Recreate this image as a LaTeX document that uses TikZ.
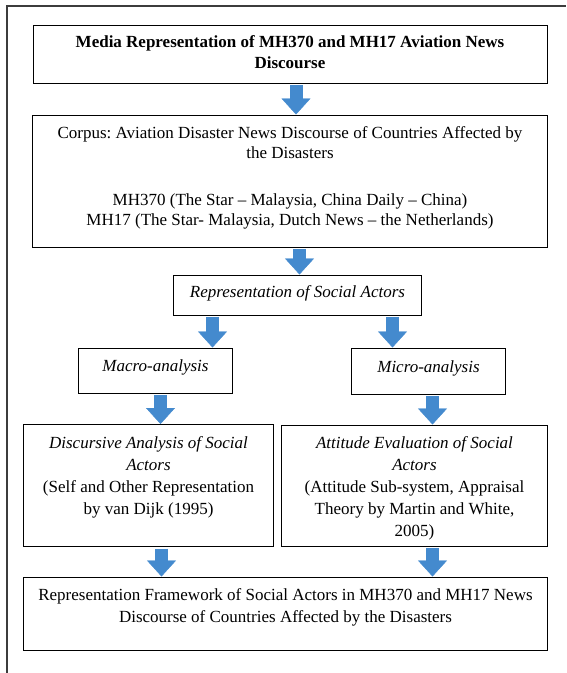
\documentclass[tikz,border=0pt]{standalone}
\usepackage{fontspec}
\setmainfont{Liberation Serif}
\usepackage{xcolor}
\usepackage{tikz}
\usetikzlibrary{arrows.meta, positioning, calc}
\definecolor{arrowblue}{RGB}{68,138,206}
\definecolor{framegray}{RGB}{60,60,60}
\frenchspacing
% text top-aligned in a box of given width and height
\newcommand{\boxtext}[4][12pt]{\parbox[c][#3][t]{#2}{\centering\vspace*{#1}#4}}
\tikzstyle{box} = [rectangle, draw=black, line width=1pt, inner sep=0pt, font=\fontsize{17}{22}\selectfont]
\tikzstyle{blockarrow} = [line width=13pt, draw=arrowblue, -{Triangle[width=29pt, length=16pt, line width=0.4pt]}]

\begin{document}
\begin{tikzpicture}[node distance=114pt]
\useasboundingbox (0,0) rectangle (566pt,-673pt);

% ===== PAGE FRAME =====
\draw [framegray, line width=1.2pt] (7pt,-673pt) -- (7pt,-6pt) -- (566pt,-6pt);

% ===== TOP =====
\node (title) [box, font=\fontsize{17}{21}\selectfont\bfseries] at (290pt,-54pt) {\boxtext[10.5pt]{514pt}{58pt}{Media Representation of MH370 and MH17 Aviation News\\Discourse}};
\node (corpus) [box, below of=title, yshift=-13pt, font=\fontsize{17}{20}\selectfont] {\boxtext{515pt}{132pt}{Corpus: Aviation Disaster News Discourse of Countries Affected by\\the Disasters\\[27pt]MH370 (The Star -- Malaysia, China Daily -- China)\\MH17 (The Star- Malaysia, Dutch News -- the Netherlands)}};
\node (socact) [box, below of=corpus, xshift=7.5pt] {\boxtext[10.5pt]{248pt}{40pt}{\textit{Representation of Social Actors}}};

% ===== ANALYSIS (LEFT / RIGHT) =====
\node (macro) [box, below of=socact, xshift=-142pt, yshift=38.5pt] {\boxtext{154pt}{45pt}{\textit{Macro-analysis}}};
\node (micro) [box, below of=socact, xshift=131pt, yshift=38pt] {\boxtext[12.5pt]{154pt}{46pt}{\textit{Micro-analysis}}};
\node (discursive) [box, below of=macro, xshift=-7pt, yshift=-1pt] {\boxtext[12.5pt]{250pt}{122pt}{\textit{Discursive Analysis of Social}\\\textit{Actors}\\(Self and Other Representation\\by van Dijk (1995)}};
\node (attitude) [box, below of=micro, xshift=-14pt, yshift=-0.5pt] {\boxtext{266pt}{121pt}{\textit{Attitude Evaluation of Social}\\\textit{Actors}\\(Attitude Sub-system, Appraisal\\Theory by Martin and White,\\2005)}};

% ===== BOTTOM =====
\node (framework) [box, below of=discursive, xshift=137pt, yshift=-14pt] {\boxtext{524pt}{73pt}{Representation Framework of Social Actors in MH370 and MH17 News\\Discourse of Countries Affected by the Disasters}};

% ===== ARROWS =====
\draw [blockarrow] ([xshift=6pt, yshift=-1.5pt]title.south) -- ([xshift=6pt]title.south |- corpus.north);
\draw [blockarrow] ([xshift=2pt, yshift=-1.5pt]corpus.south -| socact.north) -- ([xshift=2pt]socact.north);
\draw [blockarrow] ([xshift=57pt, yshift=-1.5pt]socact.south -| macro.north) -- ([xshift=57pt]macro.north);
\draw [blockarrow] ([xshift=-36pt, yshift=-1.5pt]socact.south -| micro.north) -- ([xshift=-36pt]micro.north);
\draw [blockarrow] ([xshift=5pt, yshift=-1.5pt]macro.south) -- ([xshift=5pt]macro.south |- discursive.north);
\draw [blockarrow] ([xshift=4pt, yshift=-1.5pt]micro.south) -- ([xshift=4pt]micro.south |- attitude.north);
\draw [blockarrow] ([xshift=13pt, yshift=-1.5pt]discursive.south) -- ([xshift=13pt]discursive.south |- framework.north);
\draw [blockarrow] ([xshift=18pt, yshift=-1.5pt]attitude.south) -- ([xshift=18pt]attitude.south |- framework.north);

\end{tikzpicture}
\end{document}
